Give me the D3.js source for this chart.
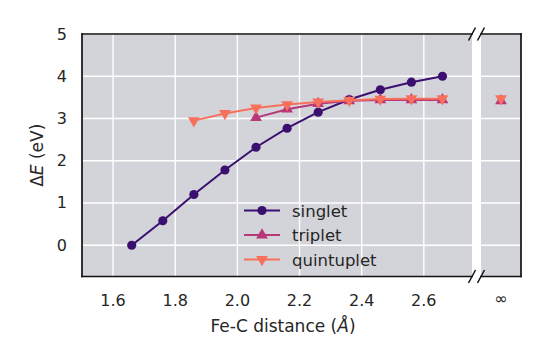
<!DOCTYPE html>
<html><head><meta charset="utf-8">
<script src="https://cdn.jsdelivr.net/npm/d3@7"></script>
<style>body{margin:0;background:#fff;}svg text{font-family:"DejaVu Sans",sans-serif;fill:#262626;}</style>
</head><body>
<script>
const distances = [1.66,1.76,1.86,1.96,2.06,2.16,2.26,2.36,2.46,2.56,2.66];
const singlet   = [0.00,0.58,1.20,1.78,2.32,2.77,3.15,3.45,3.68,3.86,4.00];
const triplet   = [null,null,null,null,3.02,3.22,3.35,3.42,3.44,3.44,3.44];
const quintuplet= [null,null,2.95,3.12,3.25,3.33,3.39,3.43,3.46,3.47,3.47];
const infTriplet = 3.42, infQuintuplet = 3.47;
const xTicks = [1.6,1.8,2.0,2.2,2.4,2.6];
const yTicks = [0,1,2,3,4,5];
const seriesNames = ["singlet","triplet","quintuplet"];
const colors = ["#3b0f70","#b73779","#f7705c"];

(function(){
const W=554,H=346;
const svg=d3.select("body").append("svg").attr("width",W).attr("height",H);
const T=34,B=276.5,L1=82,R1=472,L2=481,R2=521;
const x=d3.scaleLinear().domain([1.5,2.755]).range([L1,R1]);
const y=d3.scaleLinear().domain([-0.74,5.0]).range([B,T]);
const bg="#d3d4d9";
svg.append("rect").attr("x",L1).attr("y",T).attr("width",R1-L1).attr("height",B-T).attr("fill",bg);
svg.append("rect").attr("x",L2).attr("y",T).attr("width",R2-L2).attr("height",B-T).attr("fill",bg);
const g=svg.append("g");
xTicks.forEach(t=>g.append("line").attr("x1",x(t)).attr("x2",x(t)).attr("y1",T).attr("y2",B).attr("stroke","#fff").attr("stroke-width",1.4));
yTicks.forEach(t=>{
  g.append("line").attr("x1",L1).attr("x2",R1).attr("y1",y(t)).attr("y2",y(t)).attr("stroke","#fff").attr("stroke-width",1.4);
  g.append("line").attr("x1",L2).attr("x2",R2).attr("y1",y(t)).attr("y2",y(t)).attr("stroke","#fff").attr("stroke-width",1.4);
});
function line(x1,y1,x2,y2){svg.append("line").attr("x1",x1).attr("y1",y1).attr("x2",x2).attr("y2",y2).attr("stroke","#111").attr("stroke-width",1.7).attr("stroke-linecap","square");}
line(L1,T,R1,T);line(L1,B,R1,B);line(L1,T,L1,B);
line(L2,T,R2,T);line(L2,B,R2,B);line(R2,T,R2,B);
[[R1,T],[L2,T],[R1,B],[L2,B]].forEach(([bx,by])=>{
  svg.append("line").attr("x1",bx-3.5).attr("y1",by+6.5).attr("x2",bx+3.5).attr("y2",by-6.5).attr("stroke","#111").attr("stroke-width",1.5);
});
xTicks.forEach(t=>svg.append("text").attr("x",x(t)).attr("y",306).attr("text-anchor","middle").attr("font-size",16).text(t.toFixed(1)));
svg.append("text").attr("x",(L2+R2)/2).attr("y",304).attr("text-anchor","middle").attr("font-size",16).text("∞");
yTicks.forEach(t=>svg.append("text").attr("x",67).attr("y",y(t)+5.5).attr("text-anchor","end").attr("font-size",16).text(t));
svg.append("text").attr("x",283).attr("y",332).attr("text-anchor","middle").attr("font-size",17).html('Fe-C distance (<tspan font-style="italic">Å</tspan>)');
svg.append("text").attr("transform",`translate(43,${(T+B)/2}) rotate(-90)`).attr("text-anchor","middle").attr("font-size",17).html('Δ<tspan font-style="italic">E</tspan> (eV)');

const xInf=(L2+R2)/2;
const data=[singlet,triplet,quintuplet];
const sym=[d3.symbolCircle,d3.symbolTriangle,d3.symbolTriangle];
const sizes=[66,60,60];
function marker(gg,i,px,py){
  const p=gg.append("path").attr("d",d3.symbol().type(sym[i]).size(sizes[i])()).attr("fill",colors[i]);
  p.attr("transform",`translate(${px},${py})`+(i===2?" rotate(180)":""));
}
data.forEach((vals,i)=>{
  const pts=distances.map((d,j)=>[d,vals[j]]).filter(p=>p[1]!=null);
  const gg=svg.append("g");
  gg.append("path").attr("d",d3.line().x(p=>x(p[0])).y(p=>y(p[1]))(pts)).attr("fill","none").attr("stroke",colors[i]).attr("stroke-width",2);
  pts.forEach(p=>marker(gg,i,x(p[0]),y(p[1])));
});
marker(svg.append("g"),1,xInf,y(infTriplet));
marker(svg.append("g"),2,xInf,y(infQuintuplet));
seriesNames.forEach((n,i)=>{
  const ly=210.5+i*24.5;
  const gg=svg.append("g");
  gg.append("line").attr("x1",244).attr("x2",280).attr("y1",ly).attr("y2",ly).attr("stroke",colors[i]).attr("stroke-width",2);
  marker(gg,i,262,ly);
  svg.append("text").attr("x",292).attr("y",ly+6).attr("font-size",16.5).text(n);
});
})();
</script>
</body></html>
